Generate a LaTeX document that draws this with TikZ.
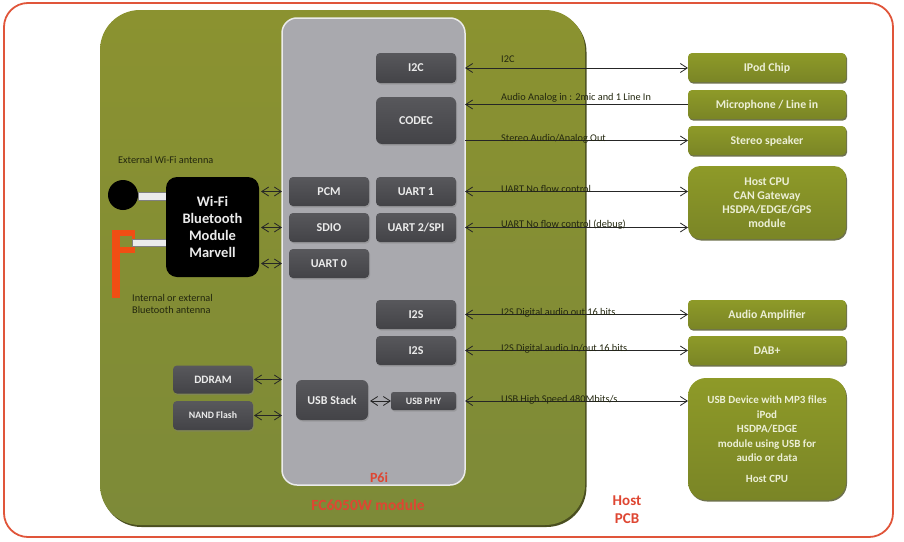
\documentclass[tikz,border=0pt]{standalone}
\usepackage{fontspec}
\setmainfont{Carlito}
\usetikzlibrary{arrows.meta,shadows}
\definecolor{olivetop}{HTML}{8B9230}
\definecolor{olivebot}{HTML}{7D8A38}
\definecolor{exttop}{HTML}{8E9A28}
\definecolor{extbot}{HTML}{7A8526}
\definecolor{oliveshadow}{HTML}{4A4F20}
\definecolor{exttext}{HTML}{ECEFD6}
\definecolor{darktop}{HTML}{58585C}
\definecolor{darkbot}{HTML}{434347}
\definecolor{greypanel}{HTML}{A9A9AE}
\definecolor{redline}{HTML}{E0553A}
\definecolor{redtext}{HTML}{DE4632}
\definecolor{antenna}{HTML}{F04E14}
\definecolor{labeltext}{HTML}{23270F}
\tikzset{
  box/.style={rectangle,inner sep=0pt,outer sep=0pt,align=center,font=\bfseries},
  chipbox/.style={box,rounded corners=4pt,top color=darktop,bottom color=darkbot,text=white!92!black,
    text depth=0pt,font=\bfseries\fontsize{12}{14}\selectfont,
    drop shadow={shadow xshift=1pt,shadow yshift=-1.5pt,opacity=.4}},
  extbox/.style={box,rounded corners=4pt,top color=exttop,bottom color=extbot,text=exttext,
    text depth=0pt,minimum width=158pt,font=\bfseries\fontsize{11.8}{14}\selectfont,
    drop shadow={shadow xshift=1pt,shadow yshift=-1.5pt,opacity=.8,fill=oliveshadow}},
  sig/.style={draw=black!85,line width=.8pt},
  both/.style={sig,{Straight Barb[length=7pt,width=9pt]}-{Straight Barb[length=7pt,width=9pt]}},
  toleft/.style={sig,{Straight Barb[length=7pt,width=9pt]}-},
  toright/.style={sig,-{Straight Barb[length=7pt,width=9pt]}},
  siglabel/.style={inner sep=0pt,anchor=base west,text=labeltext,font=\fontsize{10.3}{12}\selectfont},
  antlabel/.style={inner sep=0pt,anchor=base west,text=labeltext,font=\fontsize{10.3}{12}\selectfont},
  redlabel/.style={inner sep=0pt,text=redtext,font=\bfseries\fontsize{15.5}{17}\selectfont},
  bar/.style={fill=white!92!black,draw=black!50,line width=.4pt},
}
\begin{document}
\begin{tikzpicture}[x=1pt,y=-1pt]
\useasboundingbox (0,0) rectangle (904,541);
% outer PCB
\node[box,draw=redline,line width=1.8pt,rounded corners=24pt,minimum width=889pt,minimum height=534pt] (pcb) at (448.5,270) {};
% module
\node[box,rounded corners=40pt,top color=olivetop,bottom color=olivebot,minimum width=485pt,minimum height=515pt,
  drop shadow={shadow xshift=1.5pt,shadow yshift=-2pt,opacity=1,fill=oliveshadow}] (module) at (342.5,267.5) {};
% P6i panel
\node[box,rounded corners=15pt,fill=greypanel,draw=white!92!black,line width=1.5pt,minimum width=183pt,minimum height=467pt] (p6i) at (373.5,251.5) {};
% chip blocks
\node[chipbox,minimum width=80pt,minimum height=30pt] (i2c) at (416,68) {I2C};
\node[chipbox,rounded corners=6pt,minimum width=80pt,minimum height=47pt] (codec) at (416,120.5) {CODEC};
\node[chipbox,minimum width=80pt,minimum height=29pt] (uartone) at (416,191.5) {UART 1};
\node[chipbox,minimum width=80pt,minimum height=29pt] (uarttwo) at (416,227.5) {UART 2/SPI};
\node[chipbox,minimum width=80pt,minimum height=29pt] (pcm) at (329,191.5) {PCM};
\node[chipbox,minimum width=80pt,minimum height=29pt] (sdio) at (329,227.5) {SDIO};
\node[chipbox,minimum width=80pt,minimum height=29pt] (uartzero) at (329,263.5) {UART 0};
\node[chipbox,minimum width=80pt,minimum height=29pt] (istwoa) at (416,314.5) {I2S};
\node[chipbox,minimum width=80pt,minimum height=29pt] (istwob) at (416,350.5) {I2S};
\node[chipbox,rounded corners=6pt,minimum width=72pt,minimum height=40pt] (usbstack) at (332,400) {USB Stack};
\node[chipbox,rounded corners=2.5pt,minimum width=65pt,minimum height=18pt,font=\bfseries\fontsize{9.8}{11}\selectfont] (usbphy) at (423.5,401) {USB PHY};
\node[chipbox,minimum width=80pt,minimum height=28pt,font=\bfseries\fontsize{11.3}{13}\selectfont] (ddram) at (213,379.5) {DDRAM};
\node[chipbox,minimum width=80pt,minimum height=29pt,font=\bfseries\fontsize{9.8}{11}\selectfont] (nand) at (213,415.5) {NAND Flash};
% external blocks
\node[extbox,minimum height=29pt] (ipod) at (767,67.5) {IPod Chip};
\node[extbox,minimum height=29pt] (mic) at (767,104.5) {Microphone / Line in};
\node[extbox,minimum height=29pt] (speaker) at (767,140.5) {Stereo speaker};
\node[extbox,rounded corners=12pt,minimum height=73pt] (host) at (767,202.5) {Host CPU\\CAN Gateway\\HSDPA/EDGE/GPS\\module};
\node[extbox,minimum height=29pt] (amp) at (767,314.5) {Audio Amplifier};
\node[extbox,minimum height=29pt] (dab) at (767,350.5) {DAB+};
\node[extbox,rounded corners=18pt,minimum height=122pt,font=\bfseries\fontsize{11}{14.5}\selectfont] (usbdev) at (767,439) {USB Device with MP3 files\\iPod\\HSDPA/EDGE\\module using USB for\\audio or data\\[6pt]Host CPU};
% antennas
\node[box,circle,fill=black,minimum size=30pt] (wifiant) at (123,195) {};
\node[box,bar,minimum width=28pt,minimum height=8pt] (wifibar) at (152,196) {};
\node[box,fill=antenna,minimum width=8pt,minimum height=68pt] (btmast) at (116,264) {};
\node[box,fill=antenna,minimum width=23pt,minimum height=6pt] (bttop) at (123.5,233) {};
\node[box,fill=antenna,minimum width=15pt,minimum height=6pt] (btmid) at (127.5,250) {};
\node[box,fill=antenna,minimum width=3pt,minimum height=23pt] (btjoin) at (133.5,241.5) {};
\node[box,bar,minimum width=34pt,minimum height=7pt] (btbar) at (149,242.5) {};
% radio module
\node[box,rounded corners=11pt,fill=black,text=white!92!black,minimum width=93pt,minimum height=100pt,
  font=\bfseries\fontsize{14.5}{17}\selectfont] (radio) at (212.5,227) {Wi-Fi\\Bluetooth\\Module\\Marvell};
% connectors
\draw[both] ([xshift=2pt]radio.east |- pcm) -- (p6i.west |- pcm);
\draw[both] ([xshift=2pt]radio.east |- sdio) -- (p6i.west |- sdio);
\draw[both] ([xshift=2pt]radio.east |- uartzero) -- (p6i.west |- uartzero);
\draw[both] ([xshift=1pt]ddram.east) -- (p6i.west |- ddram);
\draw[both] ([xshift=1pt]nand.east) -- (p6i.west |- nand);
\draw[both] ([xshift=2pt]usbstack.east |- usbphy) -- (usbphy.west);
\draw[both] (p6i.east |- i2c) -- (ipod.west |- i2c);
\draw[toleft] (p6i.east |- mic) -- (mic.west);
\draw[toright] (p6i.east |- speaker) -- (speaker.west);
\draw[both] (p6i.east |- uartone) -- (host.west |- uartone);
\draw[both] (p6i.east |- uarttwo) -- (host.west |- uarttwo);
\draw[both] (p6i.east |- amp) -- (amp.west);
\draw[both] (p6i.east |- dab) -- (dab.west);
\draw[both] (p6i.east |- usbphy) -- (usbdev.west |- usbphy);
% signal labels
\node[siglabel] (li2c) at (501,62) {I2C};
\node[siglabel] (laudio) at (501,100) {Audio Analog in : 2mic  and 1 Line In};
\node[siglabel] (lstereo) at (501,141) {Stereo Audio/Analog Out};
\node[siglabel] (luone) at (501,192) {UART No flow control};
\node[siglabel] (lutwo) at (501,227) {UART No flow control (debug)};
\node[siglabel] (lisa) at (501,315) {I2S Digital audio out 16 bits};
\node[siglabel] (lisb) at (501,351) {I2S Digital audio In/out 16 bits};
\node[siglabel] (lusb) at (501,402) {USB High Speed 480Mbits/s};
\node[antlabel] (lwifi) at (118,163) {External Wi-Fi antenna};
\node[antlabel] (lbta) at (132,301) {Internal or external};
\node[antlabel] (lbtb) at (132,313) {Bluetooth antenna};
% region titles
\node[redlabel,font=\bfseries\fontsize{14}{16}\selectfont] (lp6i) at (379,478) {P6i};
\node[redlabel] (lmodule) at (368,505) {FC6050W module};
\node[redlabel,align=center,font=\bfseries\fontsize{15}{18}\selectfont] (lhost) at (627,509.5) {Host\\PCB};
\end{tikzpicture}
\end{document}
